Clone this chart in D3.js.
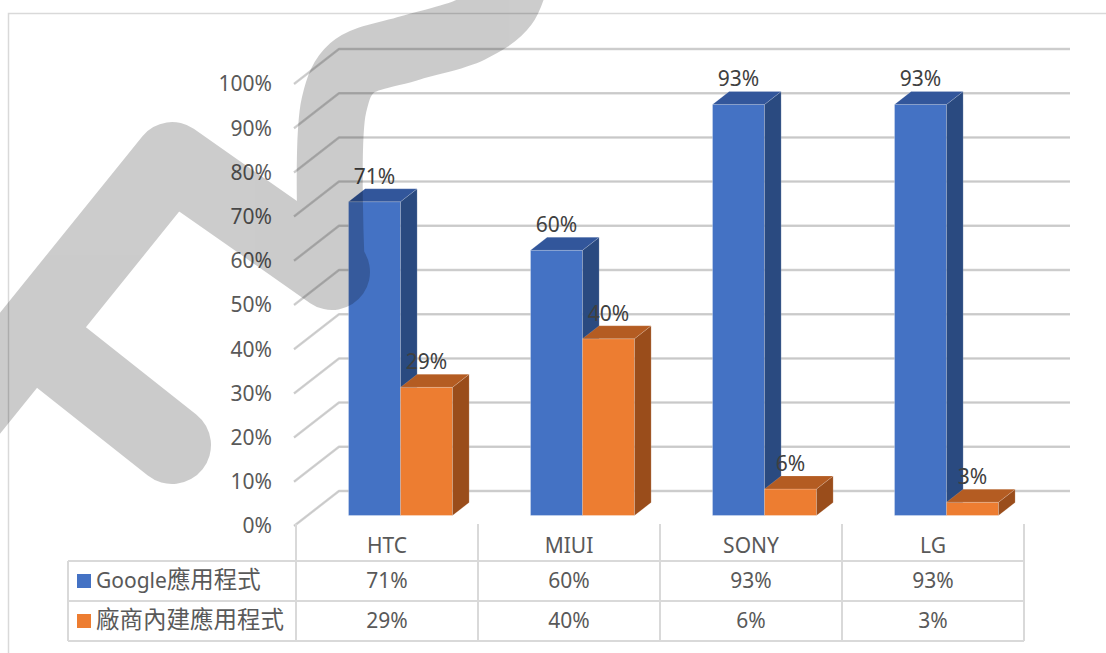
<!DOCTYPE html>
<html>
<head>
<meta charset="utf-8">
<script src="https://cdn.jsdelivr.net/npm/d3@7"></script>
<style>
  html, body { margin: 0; padding: 0; background: #fff; }
  svg { display: block; font-family: "Noto Sans", "Open Sans", sans-serif; }
  .cjk { font-family: "Noto Sans CJK TC", "Noto Sans CJK SC", sans-serif; }
</style>
</head>
<body>
<svg id="chart" width="1106" height="653"></svg>
<script>
  const categories = ["HTC", "MIUI", "SONY", "LG"];
  const seriesNames = ["Google應用程式", "廠商內建應用程式"];
  const googleApps = [0.71, 0.60, 0.93, 0.93];
  const vendorApps = [0.29, 0.40, 0.06, 0.03];
  const valueTicks = [0, 0.1, 0.2, 0.3, 0.4, 0.5, 0.6, 0.7, 0.8, 0.9, 1.0];

  const seriesValues = [googleApps, vendorApps];
  const palette = [
    { front: "#4472c4", top: "#32569b", side: "#2a4a80" },
    { front: "#ed7d31", top: "#b45c22", side: "#9a4d1b" }
  ];

  const svg = d3.select("#chart");
  const fmt = d3.format(".0%");

  // oblique projection: depth z in [0,1] shifts right/up
  const depthX = 45, depthY = -35;
  const y = d3.scaleLinear().domain([0, 1]).range([526, 84]);
  const x0 = d3.scaleBand().domain(categories).range([296, 1024]);
  const x1 = d3.scaleBand().domain(seriesNames).range([0, x0.bandwidth()]).paddingOuter(0.75);
  const proj = (x, v, z) => [x + depthX * z, y(v) + depthY * z];
  const barZ0 = 0.3, barZ1 = 0.67;

  // outer frame
  svg.append("rect")
    .attr("x", 8.5).attr("y", 13.5).attr("width", 1200).attr("height", 700)
    .attr("fill", "#fff").attr("stroke", "#d9d9d9").attr("stroke-width", 1.5);

  // gridlines (left wall + back wall)
  const left = x0.range()[0] - 2, right = x0.range()[1] + 1;
  const grid = svg.append("g");
  valueTicks.forEach((t) => {
    const pts = [proj(left, t, 0), proj(left, t, 1), proj(right, t, 1)];
    grid.append("path")
      .attr("d", d3.line()(pts))
      .attr("fill", "none")
      .attr("stroke", "#d3d3d3")
      .attr("stroke-width", 2.5)
      .attr("stroke-linejoin", "round");
    grid.append("path")
      .attr("d", d3.line()(pts))
      .attr("fill", "none")
      .attr("stroke", "#c4c4c4")
      .attr("stroke-width", 0.8);
  });

  // y axis labels
  svg.append("g").selectAll("text")
    .data(valueTicks)
    .join("text")
    .attr("x", 272)
    .attr("y", (t) => y(t))
    .attr("dy", "0.35em")
    .attr("text-anchor", "end")
    .attr("font-size", 21)
    .attr("fill", "#595959")
    .text(fmt);

  // bars
  const bars = svg.append("g");
  categories.forEach((cat, i) => {
    seriesNames.forEach((s, j) => {
      const v = seriesValues[j][i];
      const xl = x0(cat) + x1(s);
      const xr = xl + x1.bandwidth();
      const c = palette[j];
      const g = bars.append("g");
      g.append("path")
        .attr("d", d3.line()([proj(xl, v, barZ0), proj(xr, v, barZ0), proj(xr, 0, barZ0), proj(xl, 0, barZ0)]) + "Z")
        .attr("fill", c.front).attr("stroke", "rgba(255,255,255,0.35)").attr("stroke-width", 0.8);
      g.append("path")
        .attr("d", d3.line()([proj(xr, v, barZ0), proj(xr, v, barZ1), proj(xr, 0, barZ1), proj(xr, 0, barZ0)]) + "Z")
        .attr("fill", c.side).attr("stroke", "rgba(255,255,255,0.25)").attr("stroke-width", 0.6);
      g.append("path")
        .attr("d", d3.line()([proj(xl, v, barZ0), proj(xr, v, barZ0), proj(xr, v, barZ1), proj(xl, v, barZ1)]) + "Z")
        .attr("fill", c.top).attr("stroke", "rgba(255,255,255,0.25)").attr("stroke-width", 0.6);
    });
  });

  // data labels
  const labels = svg.append("g");
  categories.forEach((cat, i) => {
    seriesNames.forEach((s, j) => {
      const v = seriesValues[j][i];
      const cx = proj(x0(cat) + x1(s) + x1.bandwidth() / 2, v, barZ0)[0];
      const top = proj(0, v, barZ1)[1];
      labels.append("text")
        .attr("x", cx)
        .attr("y", top - 5)
        .attr("text-anchor", "middle")
        .attr("font-size", 21)
        .attr("fill", "#404040")
        .text(fmt(v));
    });
  });

  // data table
  const rowLines = [561, 601, 641];
  const tableTop = 524, tableLeft = 68;
  const table = svg.append("g").attr("stroke", "#d9d9d9").attr("stroke-width", 2);
  rowLines.forEach((ry) => {
    table.append("line").attr("x1", tableLeft).attr("x2", x0.range()[1]).attr("y1", ry).attr("y2", ry);
  });
  table.append("line").attr("x1", tableLeft).attr("x2", tableLeft).attr("y1", rowLines[0]).attr("y2", rowLines[2]);
  categories.concat([null]).forEach((cat, i) => {
    const xx = i < categories.length ? x0(cat) : x0.range()[1];
    table.append("line").attr("x1", xx).attr("x2", xx).attr("y1", tableTop).attr("y2", rowLines[2]);
  });

  const cellText = svg.append("g").attr("font-size", 21).attr("fill", "#595959").attr("text-anchor", "middle");
  categories.forEach((cat, i) => {
    const cx = x0(cat) + x0.bandwidth() / 2;
    cellText.append("text").attr("x", cx).attr("y", (tableTop + rowLines[0]) / 2 + 3).attr("dy", "0.35em").text(cat);
    seriesValues.forEach((vals, j) => {
      cellText.append("text").attr("x", cx).attr("y", (rowLines[j] + rowLines[j + 1]) / 2).attr("dy", "0.35em").text(fmt(vals[i]));
    });
  });

  // row headers with legend keys
  seriesNames.forEach((name, j) => {
    const cy = (rowLines[j] + rowLines[j + 1]) / 2;
    svg.append("rect")
      .attr("x", 77).attr("y", cy - 7).attr("width", 14).attr("height", 14)
      .attr("fill", palette[j].front);
    const t = svg.append("text")
      .attr("x", 96).attr("y", cy).attr("dy", "0.35em")
      .attr("font-size", 21).attr("fill", "#595959");
    const m = name.match(/^([A-Za-z]*)(.*)$/);
    if (m[1]) t.append("tspan").text(m[1]);
    t.append("tspan").attr("class", "cjk").attr("font-size", 23.5).text(m[2]);
  });

  // watermark brush stroke overlay
  const mark = svg.append("g").attr("opacity", 0.2).attr("fill", "none").attr("stroke", "#000")
    .attr("stroke-linecap", "round").attr("stroke-linejoin", "round");
  const strokeA = [[-70, 460], [172, 160], [332, 272]];
  const strokeB = [[332, 272], [334, 105], [352, 68], [410, 48], [470, 30], [505, 5], [520, -40]];
  const strokeC = [[33, 335], [172, 445]];
  mark.append("path").attr("d", d3.line()(strokeA)).attr("stroke-width", 76);
  mark.append("path").attr("d", d3.line().curve(d3.curveCatmullRom)(strokeB)).attr("stroke-width", 66);
  mark.append("path").attr("d", d3.line()(strokeC)).attr("stroke-width", 78);
</script>
</body>
</html>
